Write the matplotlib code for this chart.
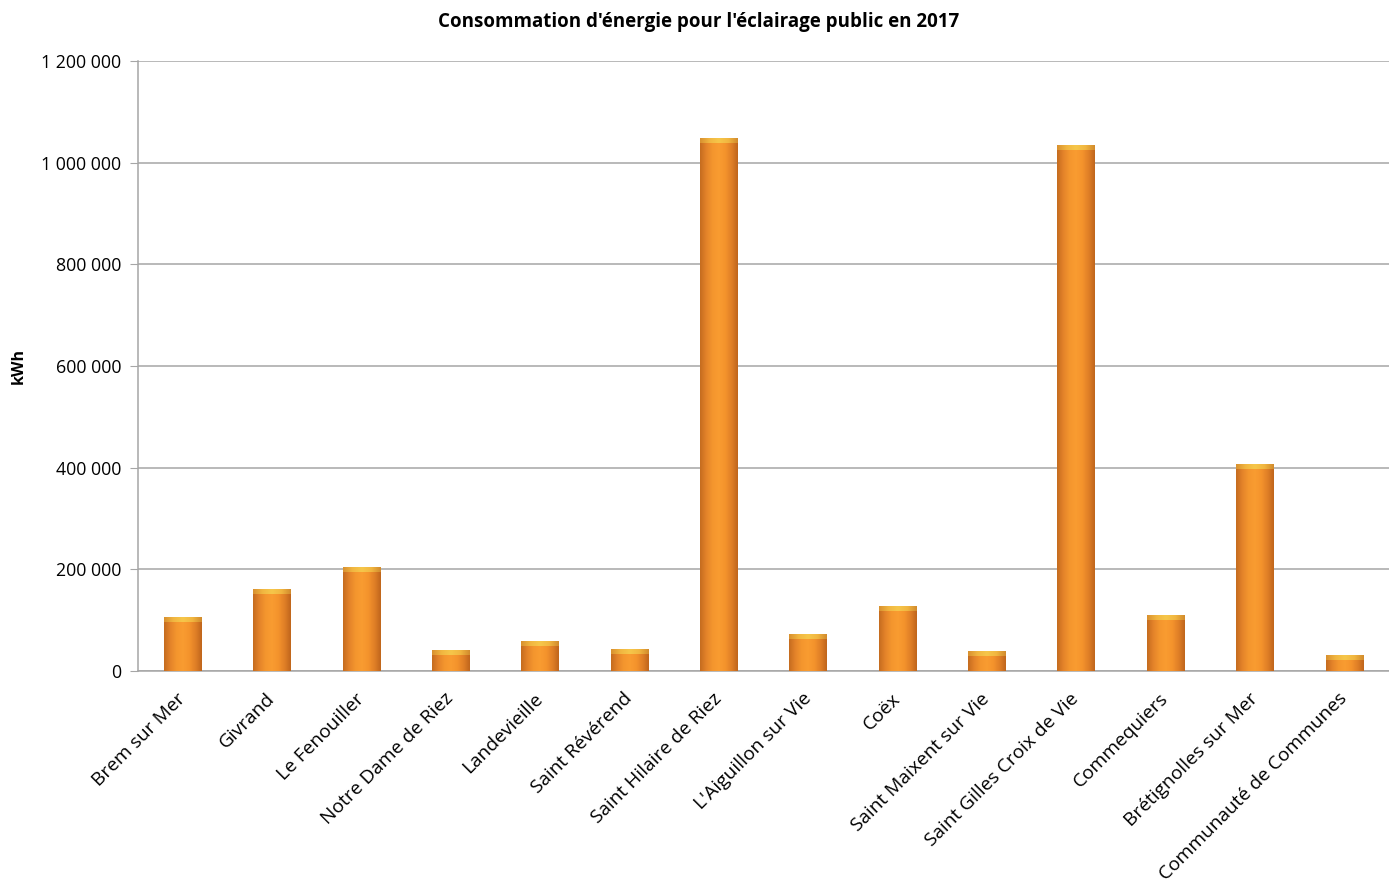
import numpy as np
import matplotlib
matplotlib.use("Agg")
import matplotlib.pyplot as plt
from matplotlib.ticker import FuncFormatter, MultipleLocator
from matplotlib.colors import LinearSegmentedColormap

communes = ["Brem sur Mer", "Givrand", "Le Fenouiller", "Notre Dame de Riez",
            "Landevieille", "Saint Révérend", "Saint Hilaire de Riez",
            "L'Aiguillon sur Vie", "Coëx", "Saint Maixent sur Vie",
            "Saint Gilles Croix de Vie", "Commequiers", "Brétignolles sur Mer",
            "Communauté de Communes"]
consommation_kwh = [106000, 161000, 205000, 41000, 59000, 43000, 1049000,
                    73000, 128000, 39000, 1035000, 110000, 407000, 31000]

title = "Consommation d'énergie pour l'éclairage public en 2017"
ylabel = "kWh"

plt.rcParams['font.family'] = ['Open Sans', 'DejaVu Sans']

fig = plt.figure(figsize=(13.89, 8.89), dpi=100)
ax = fig.add_axes([138/1389, 1 - 671/889, (1389 - 138)/1389, (671 - 61)/889])

x = np.arange(len(communes))
width = 0.42
bars = ax.bar(x, consommation_kwh, width=width, color='#F39A2E',
              edgecolor='none', zorder=3)

body_cmap = LinearSegmentedColormap.from_list(
    'body', ['#C46B1F', '#E4832A', '#F4962E', '#F99C31', '#F4932C', '#E07F27', '#BF651C'])
cap_cmap = LinearSegmentedColormap.from_list(
    'cap', ['#D8902F', '#F1B640', '#F6C74A', '#F1B640', '#D18A2C'])
grad = np.linspace(0, 1, 256).reshape(1, -1)

cap_px = 5
px_per_unit = (671 - 61) / 1200000
cap_h = cap_px / px_per_unit

for b in bars:
    x0, w, h = b.get_x(), b.get_width(), b.get_height()
    im = ax.imshow(grad, cmap=body_cmap, aspect='auto', extent=[x0, x0 + w, 0, h],
                   zorder=4, interpolation='bicubic')
    im.set_clip_path(b)
    cap = ax.bar(x0 + w / 2, cap_h, width=w, bottom=h - cap_h, color='none', zorder=5)[0]
    im2 = ax.imshow(grad, cmap=cap_cmap, aspect='auto',
                    extent=[x0, x0 + w, h - cap_h, h], zorder=5, interpolation='bicubic')
    im2.set_clip_path(cap)

ax.set_xlim(-0.5, len(communes) - 0.5)
ax.set_ylim(0, 1200000)
ax.yaxis.set_major_locator(MultipleLocator(200000))
ax.yaxis.set_major_formatter(FuncFormatter(lambda v, p: f"{int(v):,}".replace(",", " ")))
ax.grid(axis='y', color='#A6A6A6', linewidth=1.1, zorder=0)
ax.set_axisbelow(True)

for s in ['top', 'right']:
    ax.spines[s].set_visible(False)
ax.spines['left'].set_color('#A6A6A6')
ax.spines['bottom'].set_color('#A6A6A6')
ax.spines['left'].set_linewidth(1.1)
ax.spines['bottom'].set_linewidth(1.1)

ax.tick_params(axis='y', length=6, color='#A6A6A6', labelsize=12.8, pad=6)
ax.tick_params(axis='x', length=0, labelsize=13.8, pad=18)
ax.set_xticks(x)
ax.set_xticklabels(communes, rotation=45, ha='right', va='center', rotation_mode='anchor')

fig.text(19/1389, 1 - 366/889, ylabel, rotation=90, fontsize=11.5, fontweight='bold',
         ha='center', va='center')
fig.suptitle(title, x=699/1389, y=1 - 22/889, fontsize=13.5, fontweight='bold', va='center')

fig.savefig("out.png", dpi=100)
